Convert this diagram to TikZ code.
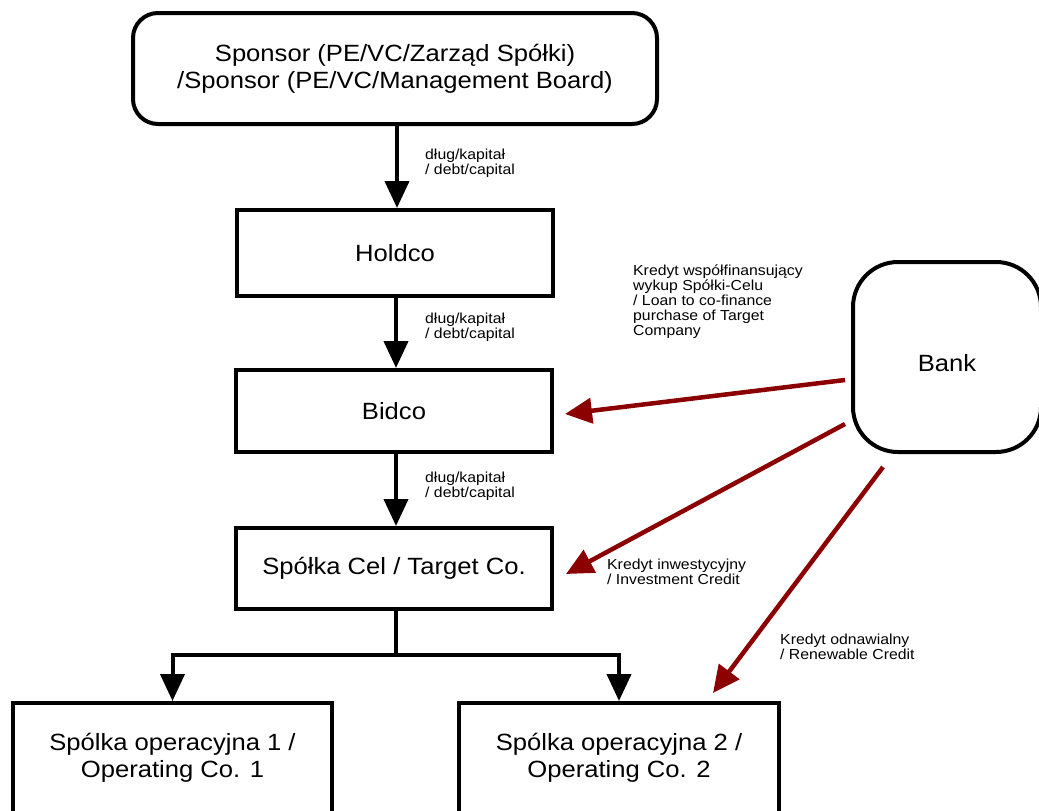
\documentclass[tikz,border=0pt]{standalone}
\usepackage{fontspec}
\setmainfont{Liberation Sans}[FakeStretch=1.09]
\usetikzlibrary{arrows.meta}
\definecolor{credit}{RGB}{139,0,0}
\newcommand{\boxfont}{\fontsize{23.5}{27}\selectfont}
\newcommand{\notefont}{\fontsize{14.5}{15}\selectfont}
\tikzset{
  entity/.style={draw, line width=4pt, fill=white, align=center, font=\boxfont,
    inner sep=0pt, minimum width=316pt},
  flow/.style={line width=4pt, -{Triangle[length=27pt,width=24pt]}},
  trunk/.style={line width=4pt},
  loan/.style={draw=credit, line width=4.5pt, -{Triangle[length=27pt,width=25pt]}, color=credit},
  note/.style={anchor=west, align=left, font=\notefont, inner sep=0pt}
}
\begin{document}
\begin{tikzpicture}[x=1pt, y=-1pt]
\useasboundingbox (0,0) rectangle (1039,811);
\clip (0,0) rectangle (1039,811);

% ownership chain
\node[entity, rounded corners=25pt, minimum width=524pt, minimum height=111pt]
  (sponsor) at (395,68.5) {Sponsor (PE/VC/Zarząd Spółki)\\/Sponsor (PE/VC/Management Board)};
\node[entity, minimum height=86pt] (holdco) at (395,253) {Holdco};
\node[entity, minimum height=82pt] (bidco) at (394,411) {Bidco};
\node[entity, minimum height=81pt] (target) at (394,568.5) {Spółka Cel / Target Co.};
\node[entity, minimum width=319pt, minimum height=110pt] (op1) at (172.5,758)
  {Spólka operacyjna 1 /\\Operating Co. 1};
\node[entity, minimum width=320pt, minimum height=110pt] (op2) at (619,758)
  {Spólka operacyjna 2 /\\Operating Co. 2};

% lender
\node[entity, rounded corners=45pt, minimum width=188pt, minimum height=190pt]
  (bank) at (947,357) {\raisebox{-14pt}[0pt][0pt]{Bank}};

% equity / debt down the chain
\draw[flow] (sponsor.south -| 397,0) -- (holdco.north -| 397,0);
\draw[flow] (holdco.south -| 396,0) -- (bidco.north -| 396,0);
\draw[flow] (bidco.south -| 396,0) -- (target.north -| 396,0);
\coordinate (split) at (396,655);
\draw[trunk] (target.south -| split) -- (split);
\draw[flow] (split) -| (op1.north);
\draw[flow] (split) -| (op2.north);

\node[note] (n1) at (425,163) {dług/kapitał\\/ debt/capital};
\node[note] (n2) at (425,327) {dług/kapitał\\/ debt/capital};
\node[note] (n3) at (425,486) {dług/kapitał\\/ debt/capital};

% bank facilities
\coordinate (bankA) at (845,380);
\coordinate (bankB) at (845,424);
\coordinate (bankC) at (883,467);
\coordinate (bidcoIn) at (565,414);
\coordinate (targetIn) at (566,574);
\coordinate (opIn) at (713,693);
\draw[loan] (bankA) -- (bidcoIn);
\draw[loan] (bankB) -- (targetIn);
\draw[loan] (bankC) -- (opIn);

\node[note] (k1) at (633,302) {Kredyt współfinansujący\\wykup Spółki-Celu\\/ Loan to co-finance\\purchase of Target\\Company};
\node[note] (k2) at (607,572) {Kredyt inwestycyjny\\/ Investment Credit};
\node[note] (k3) at (780,647) {Kredyt odnawialny\\/ Renewable Credit};
\end{tikzpicture}
\end{document}
